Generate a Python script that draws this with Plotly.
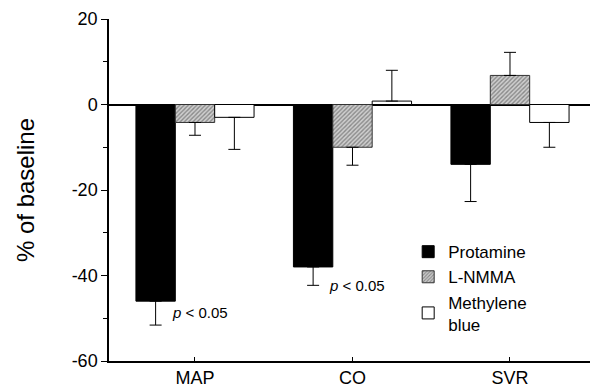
import plotly.graph_objects as go

categories = ["MAP", "CO", "SVR"]
series_names = ["Protamine", "L-NMMA", "Methylene<br>blue"]
protamine = [-46, -38, -14]
protamine_err = [5.6, 4.3, 8.7]
lnmma = [-4.2, -10, 6.8]
lnmma_err = [3.0, 4.2, 5.4]
methylene = [-3, 0.8, -4.2]
methylene_err = [7.5, 7.2, 5.8]
y_tick_vals = [20, 0, -20, -40, -60]
y_tick_text = ["20", "0", "-20", "-40", "-60"]
annot_text = "<i>p</i> < 0.05"
annot_cats = ["MAP", "CO"]
annot_y = [-48.6, -42.3]

def err(vals, errs):
    up = [e if v >= 0 else 0 for v, e in zip(vals, errs)]
    dn = [e if v < 0 else 0 for v, e in zip(vals, errs)]
    return dict(type="data", symmetric=False, array=up, arrayminus=dn,
                color="black", thickness=1, width=6)

fig = go.Figure()
fig.add_trace(go.Bar(x=categories, y=protamine, name=series_names[0],
                     marker=dict(color="black", line=dict(color="black", width=1)),
                     error_y=err(protamine, protamine_err)))
fig.add_trace(go.Bar(x=categories, y=lnmma, name=series_names[1],
                     marker=dict(color="#b0b0b0", line=dict(color="#333", width=1),
                                 pattern=dict(shape="/", fgcolor="#444", bgcolor="#cfcfcf",
                                              size=3, solidity=0.45)),
                     error_y=err(lnmma, lnmma_err)))
fig.add_trace(go.Bar(x=categories, y=methylene, name=series_names[2],
                     marker=dict(color="white", line=dict(color="black", width=1)),
                     error_y=err(methylene, methylene_err)))

for c, yv in zip(annot_cats, annot_y):
    fig.add_annotation(x=c, y=yv, text=annot_text, showarrow=False,
                       xanchor="left", yanchor="middle", xshift=-25,
                       font=dict(size=15, color="black"))

fig.update_layout(
    width=599, height=387,
    margin=dict(l=101, r=17, t=11, b=34, autoexpand=False),
    paper_bgcolor="white", plot_bgcolor="white",
    font=dict(family="Liberation Sans, Arial, sans-serif", color="black"),
    barmode="group", bargap=0.25, bargroupgap=0,
    showlegend=True,
    legend=dict(x=0.622, y=0.371, xanchor="left", yanchor="top",
                bgcolor="rgba(0,0,0,0)", font=dict(size=17), tracegroupgap=0,
                itemwidth=30),
)
fig.update_xaxes(range=[-0.546, 2.508], showline=True, linecolor="black", linewidth=1.5,
                 ticks="inside", ticklen=4, tickcolor="black", tickfont=dict(size=18),
                 showgrid=False, zeroline=False, automargin=False)
fig.update_yaxes(range=[-60, 20], tickvals=y_tick_vals, ticktext=y_tick_text,
                 showline=True, linecolor="black", linewidth=1.5,
                 ticks="outside", ticklen=6, tickcolor="black", tickfont=dict(size=18),
                 minor=dict(dtick=10, ticks="outside", ticklen=4, tickcolor="black"),
                 showgrid=False, zeroline=True, zerolinecolor="black", zerolinewidth=1.5,
                 automargin=False,
                 title=dict(text="% of baseline", font=dict(size=24), standoff=30))

fig.write_html("out.html")
